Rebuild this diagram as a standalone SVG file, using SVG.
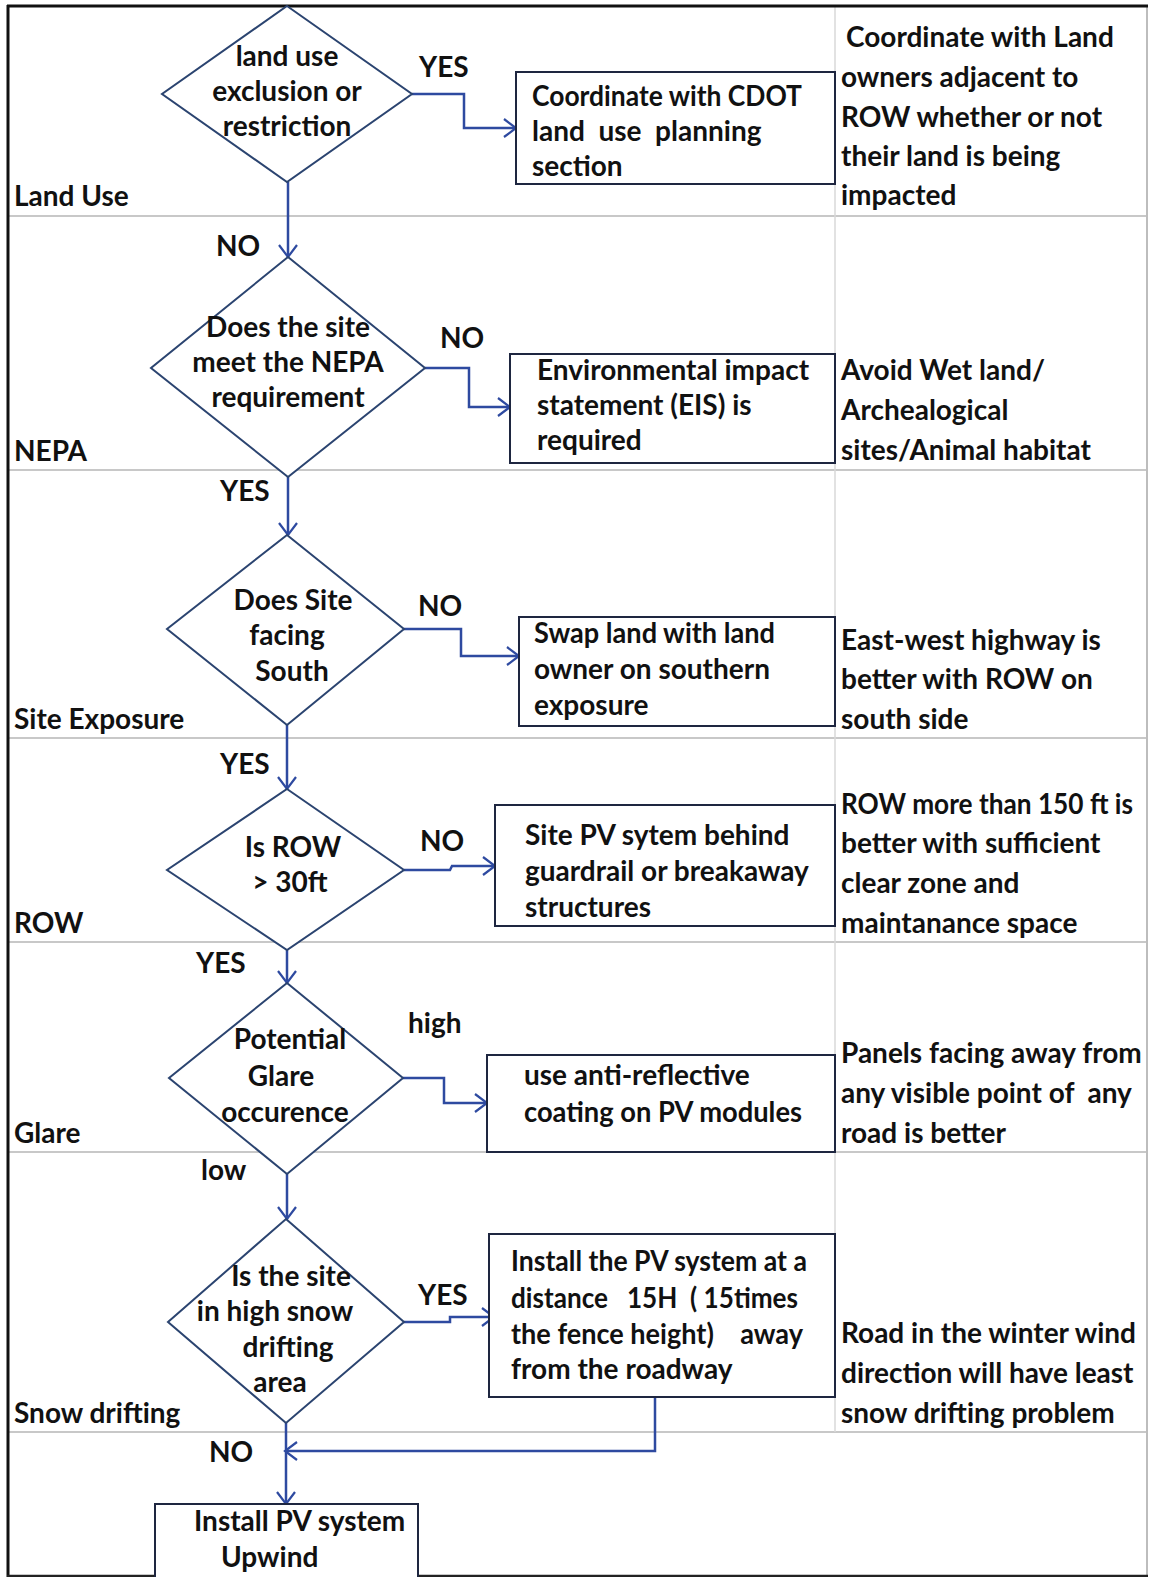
<svg xmlns="http://www.w3.org/2000/svg" width="1149" height="1577" viewBox="0 0 1149 1577">
<style>
  text { font-family: Lato, "Open Sans", "Liberation Sans", sans-serif; font-weight: bold; font-size: 28px; fill: #111; white-space: pre; }
  .mid { text-anchor: middle; }
  .lane { stroke: #c8c8c8; stroke-width: 2; fill: none; }
  .dia { fill: #fff; stroke: #2b4470; stroke-width: 2; }
  .box { fill: #fff; stroke: #1e2640; stroke-width: 2; }
  .con { fill: none; stroke: #2e4aa0; stroke-width: 2.5; marker-end: url(#arr); }
</style>
<defs>
  <marker id="arr" markerUnits="userSpaceOnUse" markerWidth="16" markerHeight="22" refX="13" refY="11" orient="auto">
    <path d="M1,2 L13,11 L1,20" fill="none" stroke="#2e4aa0" stroke-width="2.2"/>
  </marker>
</defs>
<rect width="1149" height="1577" fill="#fff"/>

<g id="frame">
  <line class="lane" x1="8" y1="216" x2="1147" y2="216"/>
  <line class="lane" x1="8" y1="470" x2="1147" y2="470"/>
  <line class="lane" x1="8" y1="738" x2="1147" y2="738"/>
  <line class="lane" x1="8" y1="942" x2="1147" y2="942"/>
  <line class="lane" x1="8" y1="1152" x2="1147" y2="1152"/>
  <line class="lane" x1="8" y1="1432" x2="1147" y2="1432"/>
  <line x1="835" y1="7" x2="835" y2="1432" stroke="#d8d8d8" stroke-width="1.5"/>
  <line x1="1147" y1="6" x2="1147" y2="1576" stroke="#bdbdbd" stroke-width="2"/>
  <line x1="7" y1="6" x2="1148" y2="6" stroke="#111" stroke-width="3"/>
  <line x1="8" y1="5" x2="8" y2="1577" stroke="#111" stroke-width="3"/>
  <line x1="7" y1="1576" x2="1148" y2="1576" stroke="#222" stroke-width="2.5"/>
</g>

<g id="lane-labels">
  <text x="14" y="206">Land Use</text>
  <text x="14" y="461">NEPA</text>
  <text x="14" y="729">Site Exposure</text>
  <text x="14" y="933">ROW</text>
  <text x="14" y="1143">Glare</text>
  <text x="14" y="1423">Snow drifting</text>
</g>

<g id="connectors">
  <path class="con" d="M412,94 H464 V128 H516"/>
  <path class="con" d="M288,182 V257"/>
  <path class="con" d="M425,368 H469 V407 H510"/>
  <path class="con" d="M288,477 V535"/>
  <path class="con" d="M404,629 H461 V656 H519"/>
  <path class="con" d="M287,725 V789"/>
  <path class="con" d="M404,870 H450 L452,866 H495"/>
  <path class="con" d="M287,950 V983"/>
  <path class="con" d="M403,1078 H444 V1103 H487"/>
  <path class="con" d="M287,1174 V1219"/>
  <path class="con" d="M404,1322 H450 V1317 H494"/>
  <path class="con" d="M655,1397 V1451 H285"/>
  <path class="con" d="M286,1423 V1504"/>
</g>

<g id="edge-labels">
  <text x="419" y="77">YES</text>
  <text x="216" y="256">NO</text>
  <text x="440" y="348">NO</text>
  <text x="220" y="501">YES</text>
  <text x="418" y="616">NO</text>
  <text x="220" y="774">YES</text>
  <text x="420" y="851">NO</text>
  <text x="196" y="973">YES</text>
  <text x="408" y="1033">high</text>
  <text x="201" y="1180">low</text>
  <text x="418" y="1305">YES</text>
  <text x="209" y="1462">NO</text>
</g>

<g id="d1">
  <polygon class="dia" points="287,6 412,94 287,182 162,94"/>
  <text class="mid" x="287" y="66">land use</text>
  <text class="mid" x="287" y="101">exclusion or</text>
  <text class="mid" x="287" y="136">restriction</text>
</g>
<g id="b1">
  <rect class="box" x="516" y="72" width="319" height="112"/>
  <text x="532" y="106" textLength="270" lengthAdjust="spacingAndGlyphs">Coordinate with CDOT</text>
  <text x="532" y="141" xml:space="preserve">land  use  planning</text>
  <text x="532" y="176">section</text>
</g>
<g id="n1">
  <text x="846" y="47">Coordinate with Land</text>
  <text x="841" y="87">owners adjacent to</text>
  <text x="841" y="127">ROW whether or not</text>
  <text x="841" y="166">their land is being</text>
  <text x="841" y="205">impacted</text>
</g>

<g id="d2">
  <polygon class="dia" points="288,257 425,368 288,477 151,368"/>
  <text class="mid" x="288" y="337">Does the site</text>
  <text class="mid" x="288" y="372">meet the NEPA</text>
  <text class="mid" x="288" y="407">requirement</text>
</g>
<g id="b2">
  <rect class="box" x="510" y="354" width="325" height="109"/>
  <text x="537" y="380">Environmental impact</text>
  <text x="537" y="415">statement (EIS) is</text>
  <text x="537" y="450">required</text>
</g>
<g id="n2">
  <text x="841" y="380">Avoid Wet land/</text>
  <text x="841" y="420">Archealogical</text>
  <text x="841" y="460">sites/Animal habitat</text>
</g>

<g id="d3">
  <polygon class="dia" points="287,535 404,629 287,725 167,629"/>
  <text class="mid" x="293" y="610">Does Site</text>
  <text class="mid" x="287" y="645">facing</text>
  <text class="mid" x="292" y="681">South</text>
</g>
<g id="b3">
  <rect class="box" x="519" y="617" width="316" height="109"/>
  <text x="534" y="643" textLength="241" lengthAdjust="spacingAndGlyphs">Swap land with land</text>
  <text x="534" y="679">owner on southern</text>
  <text x="534" y="715">exposure</text>
</g>
<g id="n3">
  <text x="841" y="650">East-west highway is</text>
  <text x="841" y="689">better with ROW on</text>
  <text x="841" y="729">south side</text>
</g>

<g id="d4">
  <polygon class="dia" points="287,789 404,870 287,950 167,870"/>
  <text class="mid" x="293" y="857">Is ROW</text>
  <text class="mid" x="290" y="892">&gt; 30ft</text>
</g>
<g id="b4">
  <rect class="box" x="495" y="805" width="340" height="121"/>
  <text x="525" y="845">Site PV sytem behind</text>
  <text x="525" y="881">guardrail or breakaway</text>
  <text x="525" y="917">structures</text>
</g>
<g id="n4">
  <text x="841" y="814" textLength="292" lengthAdjust="spacingAndGlyphs">ROW more than 150 ft is</text>
  <text x="841" y="853">better with sufficient</text>
  <text x="841" y="893">clear zone and</text>
  <text x="841" y="933">maintanance space</text>
</g>

<g id="d5">
  <polygon class="dia" points="287,983 403,1078 287,1174 169,1078"/>
  <text class="mid" x="290" y="1049">Potential</text>
  <text class="mid" x="281" y="1086">Glare</text>
  <text class="mid" x="285" y="1122">occurence</text>
</g>
<g id="b5">
  <rect class="box" x="487" y="1055" width="348" height="97"/>
  <text x="524" y="1085">use anti-reflective</text>
  <text x="524" y="1122" textLength="278" lengthAdjust="spacingAndGlyphs">coating on PV modules</text>
</g>
<g id="n5">
  <text x="841" y="1063">Panels facing away from</text>
  <text x="841" y="1103" xml:space="preserve">any visible point of  any</text>
  <text x="841" y="1143">road is better</text>
</g>

<g id="d6">
  <polygon class="dia" points="286,1219 404,1322 286,1423 168,1322"/>
  <text class="mid" x="291" y="1286">Is the site</text>
  <text class="mid" x="275" y="1321">in high snow</text>
  <text class="mid" x="288" y="1357">drifting</text>
  <text class="mid" x="280" y="1392">area</text>
</g>
<g id="b6">
  <rect class="box" x="489" y="1234" width="346" height="163"/>
  <text x="511" y="1271" textLength="296" lengthAdjust="spacingAndGlyphs">Install the PV system at a</text>
  <text x="511" y="1308" xml:space="preserve" textLength="287" lengthAdjust="spacingAndGlyphs">distance   15H  ( 15times</text>
  <text x="511" y="1344" xml:space="preserve" textLength="292" lengthAdjust="spacingAndGlyphs">the fence height)    away</text>
  <text x="511" y="1379">from the roadway</text>
</g>
<g id="n6">
  <text x="841" y="1343">Road in the winter wind</text>
  <text x="841" y="1383">direction will have least</text>
  <text x="841" y="1423">snow drifting problem</text>
</g>

<g id="b7">
  <rect class="box" x="155" y="1504" width="263" height="90"/>
  <text x="194" y="1531">Install PV system</text>
  <text x="221" y="1567">Upwind</text>
</g>
</svg>
